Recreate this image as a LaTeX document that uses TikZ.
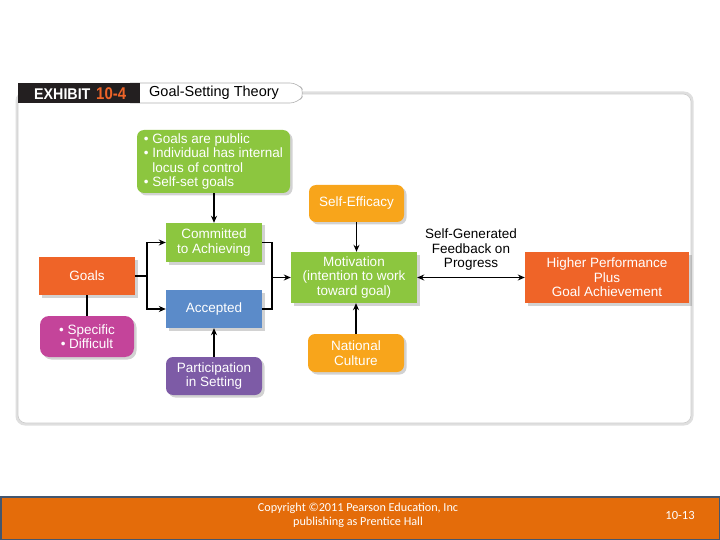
\documentclass[tikz,border=0pt]{standalone}
\usepackage{fontspec}
\setmainfont{Liberation Sans}
\newfontfamily\calib{Carlito}
\usetikzlibrary{arrows.meta,shadows}
\definecolor{gr}{HTML}{8CC63F}
\definecolor{oy}{HTML}{F8A51B}
\definecolor{orr}{HTML}{EF6428}
\definecolor{bl}{HTML}{5B8BC9}
\definecolor{mg}{HTML}{C4449A}
\definecolor{pu}{HTML}{7D5BA6}
\definecolor{ftr}{HTML}{E46C0A}
\definecolor{ftb}{HTML}{43566F}
\definecolor{blk}{HTML}{231F20}
\tikzset{
  box/.style={draw=none, text=white, align=center, inner sep=0pt,
    font=\fontsize{13.5}{14.5}\selectfont,
    drop shadow={opacity=0.35, shadow xshift=2.5pt, shadow yshift=-2.5pt}},
  rbox/.style={box, rounded corners=7pt},
  arr/.style={line width=1.4pt, -{Stealth[length=7pt,width=6pt]}},
  ln/.style={line width=1.4pt},
}
\begin{document}
\begin{tikzpicture}[x=1pt,y=-1pt]
\useasboundingbox (0,0) rectangle (720,540);
\fill[white] (0,0) rectangle (720,540);
% panel
\draw[rounded corners=8pt, draw=gray!25, line width=3pt] (17,93) rectangle (692,424);
\draw[rounded corners=8pt, draw=gray!40, line width=0.6pt, fill=white] (18,94) rectangle (691,423);
% header
\draw[gray!60, line width=0.6pt, fill=white, rounded corners=8pt] (130,83) -- (298,83) -- (305,93) -- (298,103) -- (130,103);
\fill[blk] (18,83) rectangle (140,103);
\node[anchor=west, text=white, inner sep=0pt, font=\bfseries\fontsize{15.5}{15.5}\selectfont] (exh) at (34,94) {\scalebox{0.92}[1]{EXHIBIT}};
\node[anchor=west, text=orr, inner sep=0pt, font=\bfseries\fontsize{17}{17}\selectfont] (num) at (96,94) {\scalebox{0.88}[1]{10-4}};
\node[anchor=west, text=black, inner sep=0pt, font=\fontsize{14.5}{14.5}\selectfont] (ttl) at (149,93) {Goal-Setting Theory};
% nodes
\node[rbox, fill=gr, minimum width=153pt, minimum height=63pt, align=left] (top) at (213.5,161.5)
  {\textbullet\ Goals are public\\ \textbullet\ Individual has internal\\ \phantom{\textbullet\ }locus of control\\ \textbullet\ Self-set goals};
\node[rbox, fill=oy, minimum width=95pt, minimum height=37pt] (self) at (356.5,203.5) {Self-Efficacy};
\node[box, fill=gr, minimum width=96pt, minimum height=39pt] (comm) at (214,242.5) {Committed\\to Achieving};
\node[box, fill=orr, minimum width=96pt, minimum height=38pt] (goals) at (87,276) {Goals};
\node[box, fill=gr, minimum width=126pt, minimum height=51pt] (mot) at (354,277.5) {Motivation\\(intention to work\\toward goal)};
\node[box, fill=orr, minimum width=164pt, minimum height=51pt] (high) at (607,277.5) {Higher Performance\\Plus\\Goal Achievement};
\node[align=center, inner sep=0pt, font=\fontsize{13.5}{14.5}\selectfont] (fb) at (471,250) {Self-Generated\\Feedback on\\Progress};
\node[box, fill=bl, minimum width=96pt, minimum height=38pt] (acc) at (214,309) {Accepted};
\node[rbox, fill=mg, minimum width=94pt, minimum height=41pt, rounded corners=9pt] (spec) at (87,336.5) {\textbullet\ Specific\\\textbullet\ Difficult};
\node[rbox, fill=pu, minimum width=96pt, minimum height=38pt] (part) at (214,376) {Participation\\in Setting};
\node[rbox, fill=oy, minimum width=96pt, minimum height=38pt] (nat) at (356,353) {National\\Culture};
% connectors
\draw[arr] (top.south -| comm.north) -- (comm.north);
\coordinate (gj) at (147,276);
\draw[ln] (goals.east) -- (gj);
\draw[arr] (gj) |- (comm.west);
\draw[arr] (gj) |- (acc.west);
\coordinate (mj) at (272,277.5);
\draw[ln] (comm.east) -| (mj) |- (acc.east);
\draw[arr] (mj) -- (mot.west);
\draw[ln] (goals.south) -- (spec.north);
\draw[arr] (part.north) -- (acc.south);
\draw[arr] (self.south) -- (self.south |- mot.north);
\draw[arr] (nat.north) -- (nat.north |- mot.south);
\draw[line width=1.4pt, {Stealth[length=7pt,width=6pt]}-{Stealth[length=7pt,width=6pt]}] (mot.east) -- (high.west);
% footer
\draw[fill=ftr, draw=ftb, line width=1.5pt] (0.75,497) rectangle (719.25,539.25);
\node[align=center, text=white, inner sep=0pt, font=\calib\fontsize{12.2}{14}\selectfont] (copy) at (358,515) {Copyright ©2011 Pearson Education, Inc\\publishing as Prentice Hall};
\node[text=white, inner sep=0pt, font=\calib\fontsize{12.5}{14}\selectfont] (pg) at (680,515) {10-13};
\end{tikzpicture}
\end{document}
